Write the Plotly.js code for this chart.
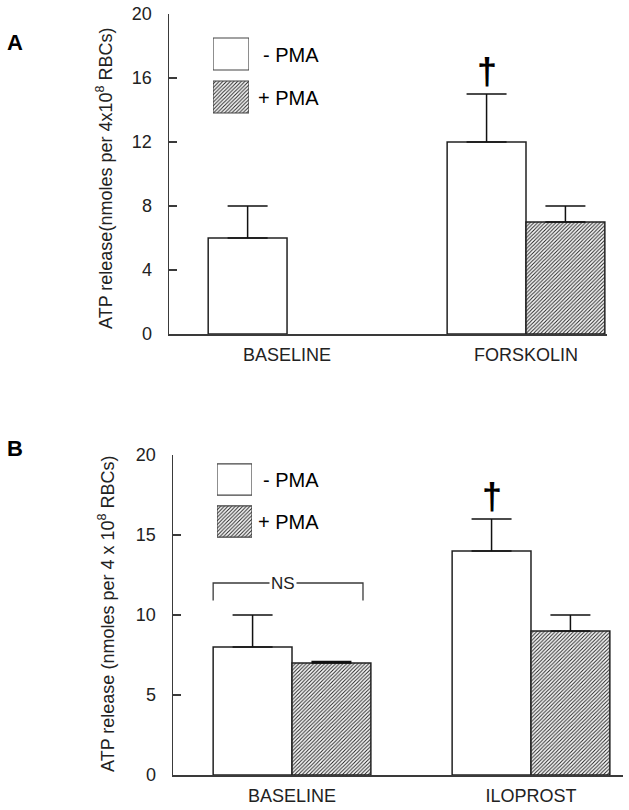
<!DOCTYPE html>
<html>
<head>
<meta charset="utf-8">
<script src="https://cdn.plot.ly/plotly-3.0.1.min.js"></script>
<style>
  html, body { margin: 0; padding: 0; background: #fff; }
  #chart { width: 629px; height: 810px; }
</style>
</head>
<body>
<div id="chart"></div>
<script>
// ---- Data ----
const categoriesA = ['BASELINE', 'FORSKOLIN'];
const noPmaA = [6, 12];
const noPmaErrA = [2, 3];
const pmaA = [null, 7];
const pmaErrA = [null, 1];

const categoriesB = ['BASELINE', 'ILOPROST'];
const noPmaB = [8, 14];
const noPmaErrB = [2, 2];
const pmaB = [7, 9];
const pmaErrB = [0.1, 1];

const yTicksA = [0, 4, 8, 12, 16, 20];
const yTicksB = [0, 5, 10, 15, 20];

const legendLabels = ['- PMA', '+ PMA'];
const axisTitleA = 'ATP release(nmoles per 4x10<sup>8</sup> RBCs)';
const axisTitleB = 'ATP release (nmoles per 4 x 10<sup>8</sup> RBCs)';

// ---- Style ----
const W = 629, H = 810;
const FONT = 'Liberation Sans, Arial, Helvetica, sans-serif';
const INK = '#222';
const AXC = '#3a3a3a';
const px = v => v / W;
const py = v => (H - v) / H;
const BARGAP = 0.34;
const barOff = (1 - BARGAP) / 4;

const hatch = { shape: '/', fgcolor: '#2a2a2a', bgcolor: '#ffffff', size: 2.6, solidity: 0.42 };
const outline = { color: INK, width: 1.5 };
function errBars(arr) {
  return { type: 'data', symmetric: false, array: arr, arrayminus: arr.map(v => v == null ? null : 0),
           color: '#111', thickness: 1.5, width: 20 };
}

const traces = [
  { type: 'bar', x: categoriesA, y: noPmaA, xaxis: 'x', yaxis: 'y', name: legendLabels[0],
    marker: { color: '#ffffff', line: outline }, error_y: errBars(noPmaErrA), hoverinfo: 'y' },
  { type: 'bar', x: categoriesA, y: pmaA, xaxis: 'x', yaxis: 'y', name: legendLabels[1],
    marker: { color: '#ffffff', line: outline, pattern: hatch }, error_y: errBars(pmaErrA), hoverinfo: 'y' },
  { type: 'bar', x: categoriesB, y: noPmaB, xaxis: 'x2', yaxis: 'y2', name: legendLabels[0],
    marker: { color: '#ffffff', line: outline }, error_y: errBars(noPmaErrB), hoverinfo: 'y' },
  { type: 'bar', x: categoriesB, y: pmaB, xaxis: 'x2', yaxis: 'y2', name: legendLabels[1],
    marker: { color: '#ffffff', line: outline, pattern: hatch }, error_y: errBars(pmaErrB), hoverinfo: 'y' },
  // legend swatches
  { type: 'bar', orientation: 'h', y: legendLabels, x: legendLabels.map(() => 1), xaxis: 'x3', yaxis: 'y3',
    marker: { color: '#ffffff', line: { color: '#444', width: 1.2 },
              pattern: { shape: ['', '/'], fgcolor: '#2a2a2a', bgcolor: '#ffffff', size: 2.6, solidity: 0.42 } },
    hoverinfo: 'skip', width: 0.745 },
  { type: 'bar', orientation: 'h', y: legendLabels, x: legendLabels.map(() => 1), xaxis: 'x4', yaxis: 'y4',
    marker: { color: '#ffffff', line: { color: '#444', width: 1.2 },
              pattern: { shape: ['', '/'], fgcolor: '#2a2a2a', bgcolor: '#ffffff', size: 2.6, solidity: 0.42 } },
    hoverinfo: 'skip', width: 0.745 }
];

const tickFont = { family: FONT, size: 18, color: INK };
function xAx(domain, range) {
  return { domain: domain, range: range, type: 'category', showline: true, linecolor: AXC, linewidth: 1.5,
           ticks: '', showgrid: false, zeroline: false, tickfont: tickFont, ticklabelstandoff: 4, fixedrange: true };
}
function yAx(domain, ticks, anchor) {
  return { domain: domain, range: [0, 20], tickvals: ticks, ticktext: ticks.map(String), showline: true,
           linecolor: AXC, linewidth: 1.5, ticks: 'inside', ticklen: 8, tickwidth: 1.5, tickcolor: AXC,
           showgrid: false, zeroline: false, tickfont: tickFont, ticklabelstandoff: 12, anchor: anchor, fixedrange: true };
}
function hidden(domain, range, extra) {
  return Object.assign({ domain: domain, range: range, visible: false, fixedrange: true }, extra || {});
}
function paperText(text, x, y, size, opts) {
  return Object.assign({ text: text, xref: 'paper', yref: 'paper', x: px(x), y: py(y), xanchor: 'center',
    yanchor: 'middle', showarrow: false, font: { family: FONT, size: size, color: '#000' } }, opts || {});
}

const layout = {
  width: W, height: H,
  margin: { l: 0, r: 0, t: 0, b: 0 },
  paper_bgcolor: '#ffffff', plot_bgcolor: 'rgba(0,0,0,0)',
  showlegend: false,
  barmode: 'group', bargap: BARGAP,
  font: { family: FONT, color: INK },
  xaxis: Object.assign(xAx([px(169), px(607)], [-0.494, 1.339]), { anchor: 'y' }),
  yaxis: yAx([py(334), py(14)], yTicksA, 'x'),
  xaxis2: Object.assign(xAx([px(173), px(623)], [-0.498, 1.385]), { anchor: 'y2' }),
  yaxis2: yAx([py(775), py(455)], yTicksB, 'x2'),
  xaxis3: hidden([px(213), px(249)], [0, 1], { anchor: 'y3' }),
  yaxis3: hidden([py(118.5), py(32.5)], [1.5, -0.5], { type: 'category', anchor: 'x3' }),
  xaxis4: hidden([px(217), px(252)], [0, 1], { anchor: 'y4' }),
  yaxis4: hidden([py(542.5), py(458.5)], [1.5, -0.5], { type: 'category', anchor: 'x4' }),
  shapes: [
    { type: 'path', xref: 'x2', yref: 'y2',
      path: 'M -0.33,10.9 L -0.33,12 L 0.297,12 L 0.297,10.9',
      line: { color: AXC, width: 1.3 } }
  ],
  annotations: [
    paperText('<b>A</b>', 15, 43, 22),
    paperText('<b>B</b>', 15, 449, 22),
    paperText(axisTitleA, 104, 178, 18, { textangle: -90, font: { family: FONT, size: 18, color: INK } }),
    paperText(axisTitleB, 106, 614, 18, { textangle: -90, font: { family: FONT, size: 18, color: INK } }),
    // legend text
    paperText(legendLabels[0], 321, 55, 20, { xanchor: 'right' }),
    paperText(legendLabels[1], 321, 98, 20, { xanchor: 'right' }),
    paperText(legendLabels[0], 321, 480, 20, { xanchor: 'right' }),
    paperText(legendLabels[1], 321, 522, 20, { xanchor: 'right' }),
    // significance daggers
    { text: '<b>\u2020</b>', xref: 'x', yref: 'y', x: 1 - barOff, y: noPmaA[1] + noPmaErrA[1] + 1.4,
      xanchor: 'center', yanchor: 'middle', showarrow: false, font: { family: FONT, size: 36, color: '#000' } },
    { text: '<b>\u2020</b>', xref: 'x2', yref: 'y2', x: 1 - barOff, y: noPmaB[1] + noPmaErrB[1] + 1.4,
      xanchor: 'center', yanchor: 'middle', showarrow: false, font: { family: FONT, size: 36, color: '#000' } },
    // NS
    { text: 'NS', xref: 'x2', yref: 'y2', x: -0.038, y: 12, xanchor: 'center', yanchor: 'middle',
      showarrow: false, bgcolor: '#ffffff', borderpad: 1, font: { family: FONT, size: 17, color: INK } }
  ]
};

Plotly.newPlot('chart', traces, layout, { staticPlot: true, displayModeBar: false });
</script>
</body>
</html>
